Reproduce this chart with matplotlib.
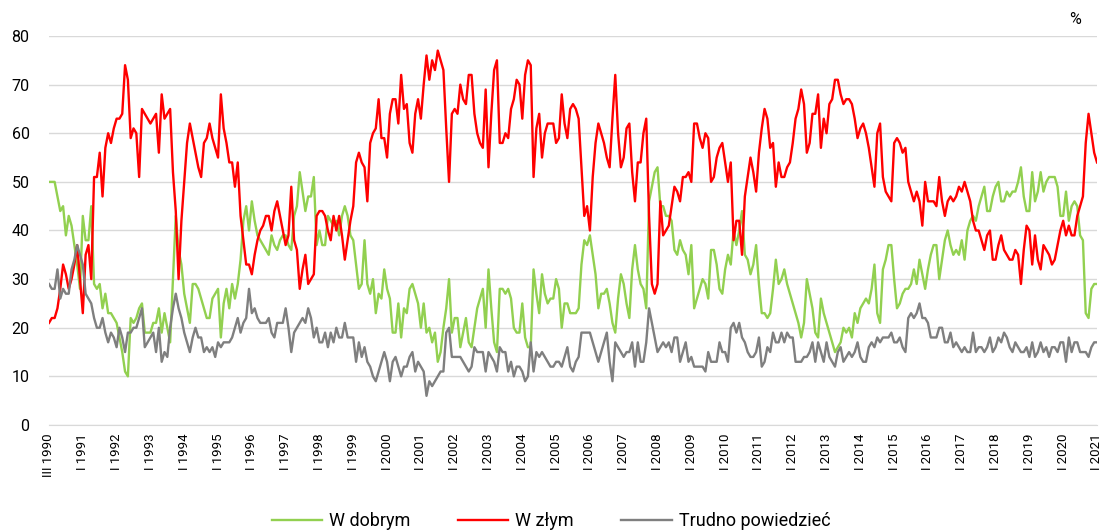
import numpy as np
import matplotlib
matplotlib.use('Agg')
import matplotlib.pyplot as plt

plt.rcParams['font.family'] = ['Roboto', 'DejaVu Sans']

# data (monthly, III 1990 - I 2021)
w_dobrym = [
    50, 50, 50, 47, 44, 45, 39, 43, 41, 37, 33, 28, 43, 38, 38, 45, 29, 28, 29, 24, 27, 23, 23, 22, 21, 18, 15, 11, 10, 22, 21,
    22, 24, 25, 19, 19, 19, 21, 21, 24, 19, 23, 20, 17, 30, 43, 36, 33, 27, 24, 21, 29, 29, 28, 26, 24, 22, 22, 26, 27, 28, 18, 25, 28,
    24, 29, 26, 29, 34, 42, 45, 40, 46, 42, 39, 38, 37, 36, 35, 39, 37, 36, 38, 39, 39, 37, 36, 43, 45, 52, 48, 44, 47, 47, 51,
    37, 40, 37, 37, 43, 42, 41, 42, 39, 43, 45, 43, 39, 38, 33, 28, 29, 38, 29, 27, 30, 23, 27, 26, 32, 28, 26, 19, 19, 25, 18, 24,
    23, 28, 29, 27, 25, 20, 25, 19, 20, 17, 19, 13, 15, 20, 24, 30, 19, 22, 22, 16, 19, 22, 17, 16, 20, 24, 26, 28, 20, 32, 24, 17,
    15, 28, 28, 27, 28, 26, 20, 19, 19, 25, 18, 16, 16, 32, 27, 23, 31, 27, 25, 26, 26, 30, 28, 20, 25, 25, 23, 23, 23, 24, 33, 38,
    37, 39, 35, 31, 24, 27, 27, 28, 25, 21, 19, 26, 31, 29, 25, 22, 32, 37, 32, 29, 28, 24, 46, 49, 52, 53, 45, 45, 43, 43, 42, 36,
    35, 38, 36, 35, 31, 37, 24, 26, 28, 30, 29, 26, 36, 36, 33, 28, 27, 32, 35, 33, 40, 37, 40, 44, 35, 34, 31, 33, 37, 29, 23, 23,
    22, 23, 28, 34, 29, 30, 32, 29, 27, 25, 23, 21, 18, 21, 30, 27, 24, 19, 18, 26, 23, 21, 19, 17, 15, 16, 17, 20, 19, 20, 18, 23,
    21, 24, 25, 26, 25, 28, 33, 23, 21, 32, 34, 37, 37, 30, 24, 25, 27, 28, 28, 29, 32, 29, 34, 31, 28, 32, 35, 37, 37, 30, 34, 38,
    40, 37, 35, 36, 35, 38, 34, 40, 42, 43, 42, 45, 47, 49, 44, 44, 47, 49, 50, 46, 46, 48, 47, 48, 48, 50, 53, 47, 44, 44,
    52, 46, 48, 52, 48, 50, 51, 51, 51, 49, 43, 43, 48, 42, 45, 46, 45, 39, 38, 23, 22, 28, 29, 29,
]
w_zlym = [
    21, 22, 22, 24, 28, 33, 31, 28, 30, 33, 37, 30, 23, 35, 37, 30, 51, 51, 56, 47, 57, 60, 58, 61, 63, 63, 64, 74, 71, 59, 61,
    60, 51, 65, 64, 63, 62, 63, 64, 56, 68, 63, 64, 65, 52, 44, 30, 42, 50, 58, 62, 59, 56, 53, 51, 58, 59, 62, 59, 57, 55, 68, 61, 58,
    54, 54, 49, 54, 43, 38, 33, 33, 31, 35, 38, 40, 41, 43, 43, 40, 44, 46, 43, 40, 37, 39, 49, 38, 36, 28, 32, 35, 29, 30, 31,
    43, 44, 44, 43, 40, 38, 43, 40, 43, 39, 34, 38, 42, 45, 54, 56, 54, 53, 46, 58, 60, 61, 67, 59, 59, 55, 64, 67, 67, 62, 72, 65,
    66, 58, 56, 64, 67, 63, 70, 76, 71, 75, 73, 77, 75, 73, 61, 50, 64, 65, 64, 70, 67, 66, 72, 72, 64, 60, 58, 57, 69, 53, 64, 73,
    75, 58, 58, 60, 59, 65, 67, 71, 70, 63, 72, 75, 74, 51, 61, 64, 55, 60, 62, 62, 62, 58, 59, 68, 62, 59, 65, 66, 65, 63, 53, 43,
    45, 40, 51, 58, 62, 60, 58, 55, 53, 63, 72, 60, 53, 55, 61, 62, 52, 46, 54, 54, 60, 63, 43, 29, 27, 29, 46, 39, 40, 41, 45, 49,
    48, 46, 51, 51, 52, 50, 62, 62, 59, 57, 60, 59, 50, 51, 55, 57, 58, 54, 50, 54, 38, 42, 42, 35, 47, 51, 55, 52, 48, 56, 61, 65,
    63, 57, 58, 49, 54, 51, 51, 53, 54, 58, 63, 65, 69, 66, 56, 58, 64, 64, 68, 57, 63, 60, 66, 67, 71, 71, 68, 66, 67, 67, 66, 63,
    59, 61, 62, 60, 57, 53, 49, 60, 62, 51, 48, 47, 46, 58, 59, 58, 56, 57, 50, 48, 46, 48, 46, 41, 50, 46, 46, 46, 45, 51, 46, 43,
    46, 47, 46, 47, 49, 48, 50, 48, 46, 42, 40, 40, 38, 36, 39, 40, 34, 34, 37, 39, 36, 35, 34, 34, 36, 35, 29, 36, 41, 40,
    33, 39, 34, 32, 37, 36, 35, 33, 34, 37, 40, 42, 39, 41, 39, 39, 43, 45, 47, 58, 64, 60, 56, 54,
]
trudno = [
    29, 28, 28, 32, 26, 28, 27, 27, 32, 34, 37, 35, 33, 27, 26, 25, 22, 20, 20, 22, 19, 17, 19, 18, 16, 20, 18, 15, 19, 19, 20,
    20, 22, 24, 16, 17, 18, 19, 15, 20, 13, 15, 14, 20, 24, 27, 24, 22, 19, 17, 15, 18, 20, 18, 18, 15, 16, 15, 16, 14, 17, 16, 17, 17,
    17, 18, 20, 22, 19, 21, 22, 28, 23, 24, 22, 21, 21, 21, 22, 19, 18, 21, 21, 21, 24, 20, 15, 19, 20, 21, 22, 21, 24, 22, 18,
    20, 17, 17, 19, 16, 19, 17, 20, 18, 18, 21, 18, 18, 18, 13, 17, 14, 16, 13, 12, 10, 9, 11, 13, 15, 13, 9, 13, 14, 12, 10, 12,
    12, 14, 15, 11, 13, 12, 11, 6, 9, 8, 9, 10, 11, 11, 19, 20, 14, 14, 14, 14, 13, 12, 11, 12, 16, 15, 15, 15, 11, 15, 14, 13,
    11, 16, 15, 15, 11, 13, 10, 12, 12, 11, 9, 10, 17, 11, 15, 14, 15, 14, 13, 12, 12, 13, 13, 12, 14, 16, 12, 11, 13, 14, 19, 19,
    19, 19, 17, 15, 13, 15, 17, 19, 13, 9, 17, 16, 15, 14, 15, 15, 17, 12, 17, 13, 13, 17, 24, 21, 18, 15, 16, 17, 16, 17, 15, 18,
    18, 13, 15, 17, 13, 14, 12, 12, 12, 12, 11, 15, 13, 13, 13, 17, 15, 15, 13, 20, 21, 19, 21, 18, 17, 15, 14, 14, 15, 18, 12, 13,
    16, 15, 19, 17, 17, 19, 17, 19, 18, 18, 13, 13, 13, 14, 14, 15, 17, 13, 17, 15, 13, 17, 14, 13, 12, 15, 16, 13, 14, 15, 14, 15,
    17, 14, 13, 13, 16, 17, 16, 18, 17, 18, 18, 18, 19, 17, 17, 18, 16, 15, 22, 23, 22, 23, 25, 22, 22, 21, 18, 18, 18, 20, 20, 17,
    17, 19, 16, 17, 16, 15, 16, 15, 15, 19, 15, 16, 16, 15, 16, 18, 15, 16, 18, 17, 19, 18, 16, 15, 17, 16, 15, 15, 16, 14,
    17, 14, 15, 17, 15, 16, 14, 16, 16, 15, 17, 17, 13, 18, 15, 17, 17, 15, 15, 15, 14, 16, 17, 17,
]
tick_labels = ['III 1990'] + ['I ' + str(y) for y in range(1991, 2022)]

x = np.arange(len(w_dobrym))

fig = plt.figure(figsize=(11.02, 5.32), dpi=100)
ax = fig.add_axes([49 / 1102, 1 - 425 / 532, 1048 / 1102, 389 / 532])

ax.plot(x, w_dobrym, color='#92D050', linewidth=1.7, label='W dobrym')
ax.plot(x, w_zlym, color='#FF0000', linewidth=1.7, label='W złym')
ax.plot(x, trudno, color='#7F7F7F', linewidth=1.7, label='Trudno powiedzieć')

ax.set_xlim(0, len(x) - 1)
ax.set_ylim(0, 80)
ax.set_yticks(range(0, 81, 10))
ax.set_xticks(range(0, len(x), 12))
ax.set_xticklabels(tick_labels, rotation=90, fontsize=9.5)
ax.tick_params(axis='y', length=0, labelsize=11.5, pad=14)
ax.tick_params(axis='x', length=0, pad=6)
ax.grid(axis='y', color='#D9D9D9', linewidth=1)
ax.set_axisbelow(True)
for s in ['top', 'right', 'left']:
    ax.spines[s].set_visible(False)
ax.spines['bottom'].set_color('#D9D9D9')

fig.text(1075 / 1102, 1 - 20 / 532, '%', fontsize=11.5, ha='center', va='center')

fig.legend(loc='center', bbox_to_anchor=(0.5, 1 - 521 / 532), ncol=3, frameon=False,
           fontsize=13, handlelength=2.8, handletextpad=0.4, columnspacing=2.6)

fig.savefig('out.png', dpi=100)
